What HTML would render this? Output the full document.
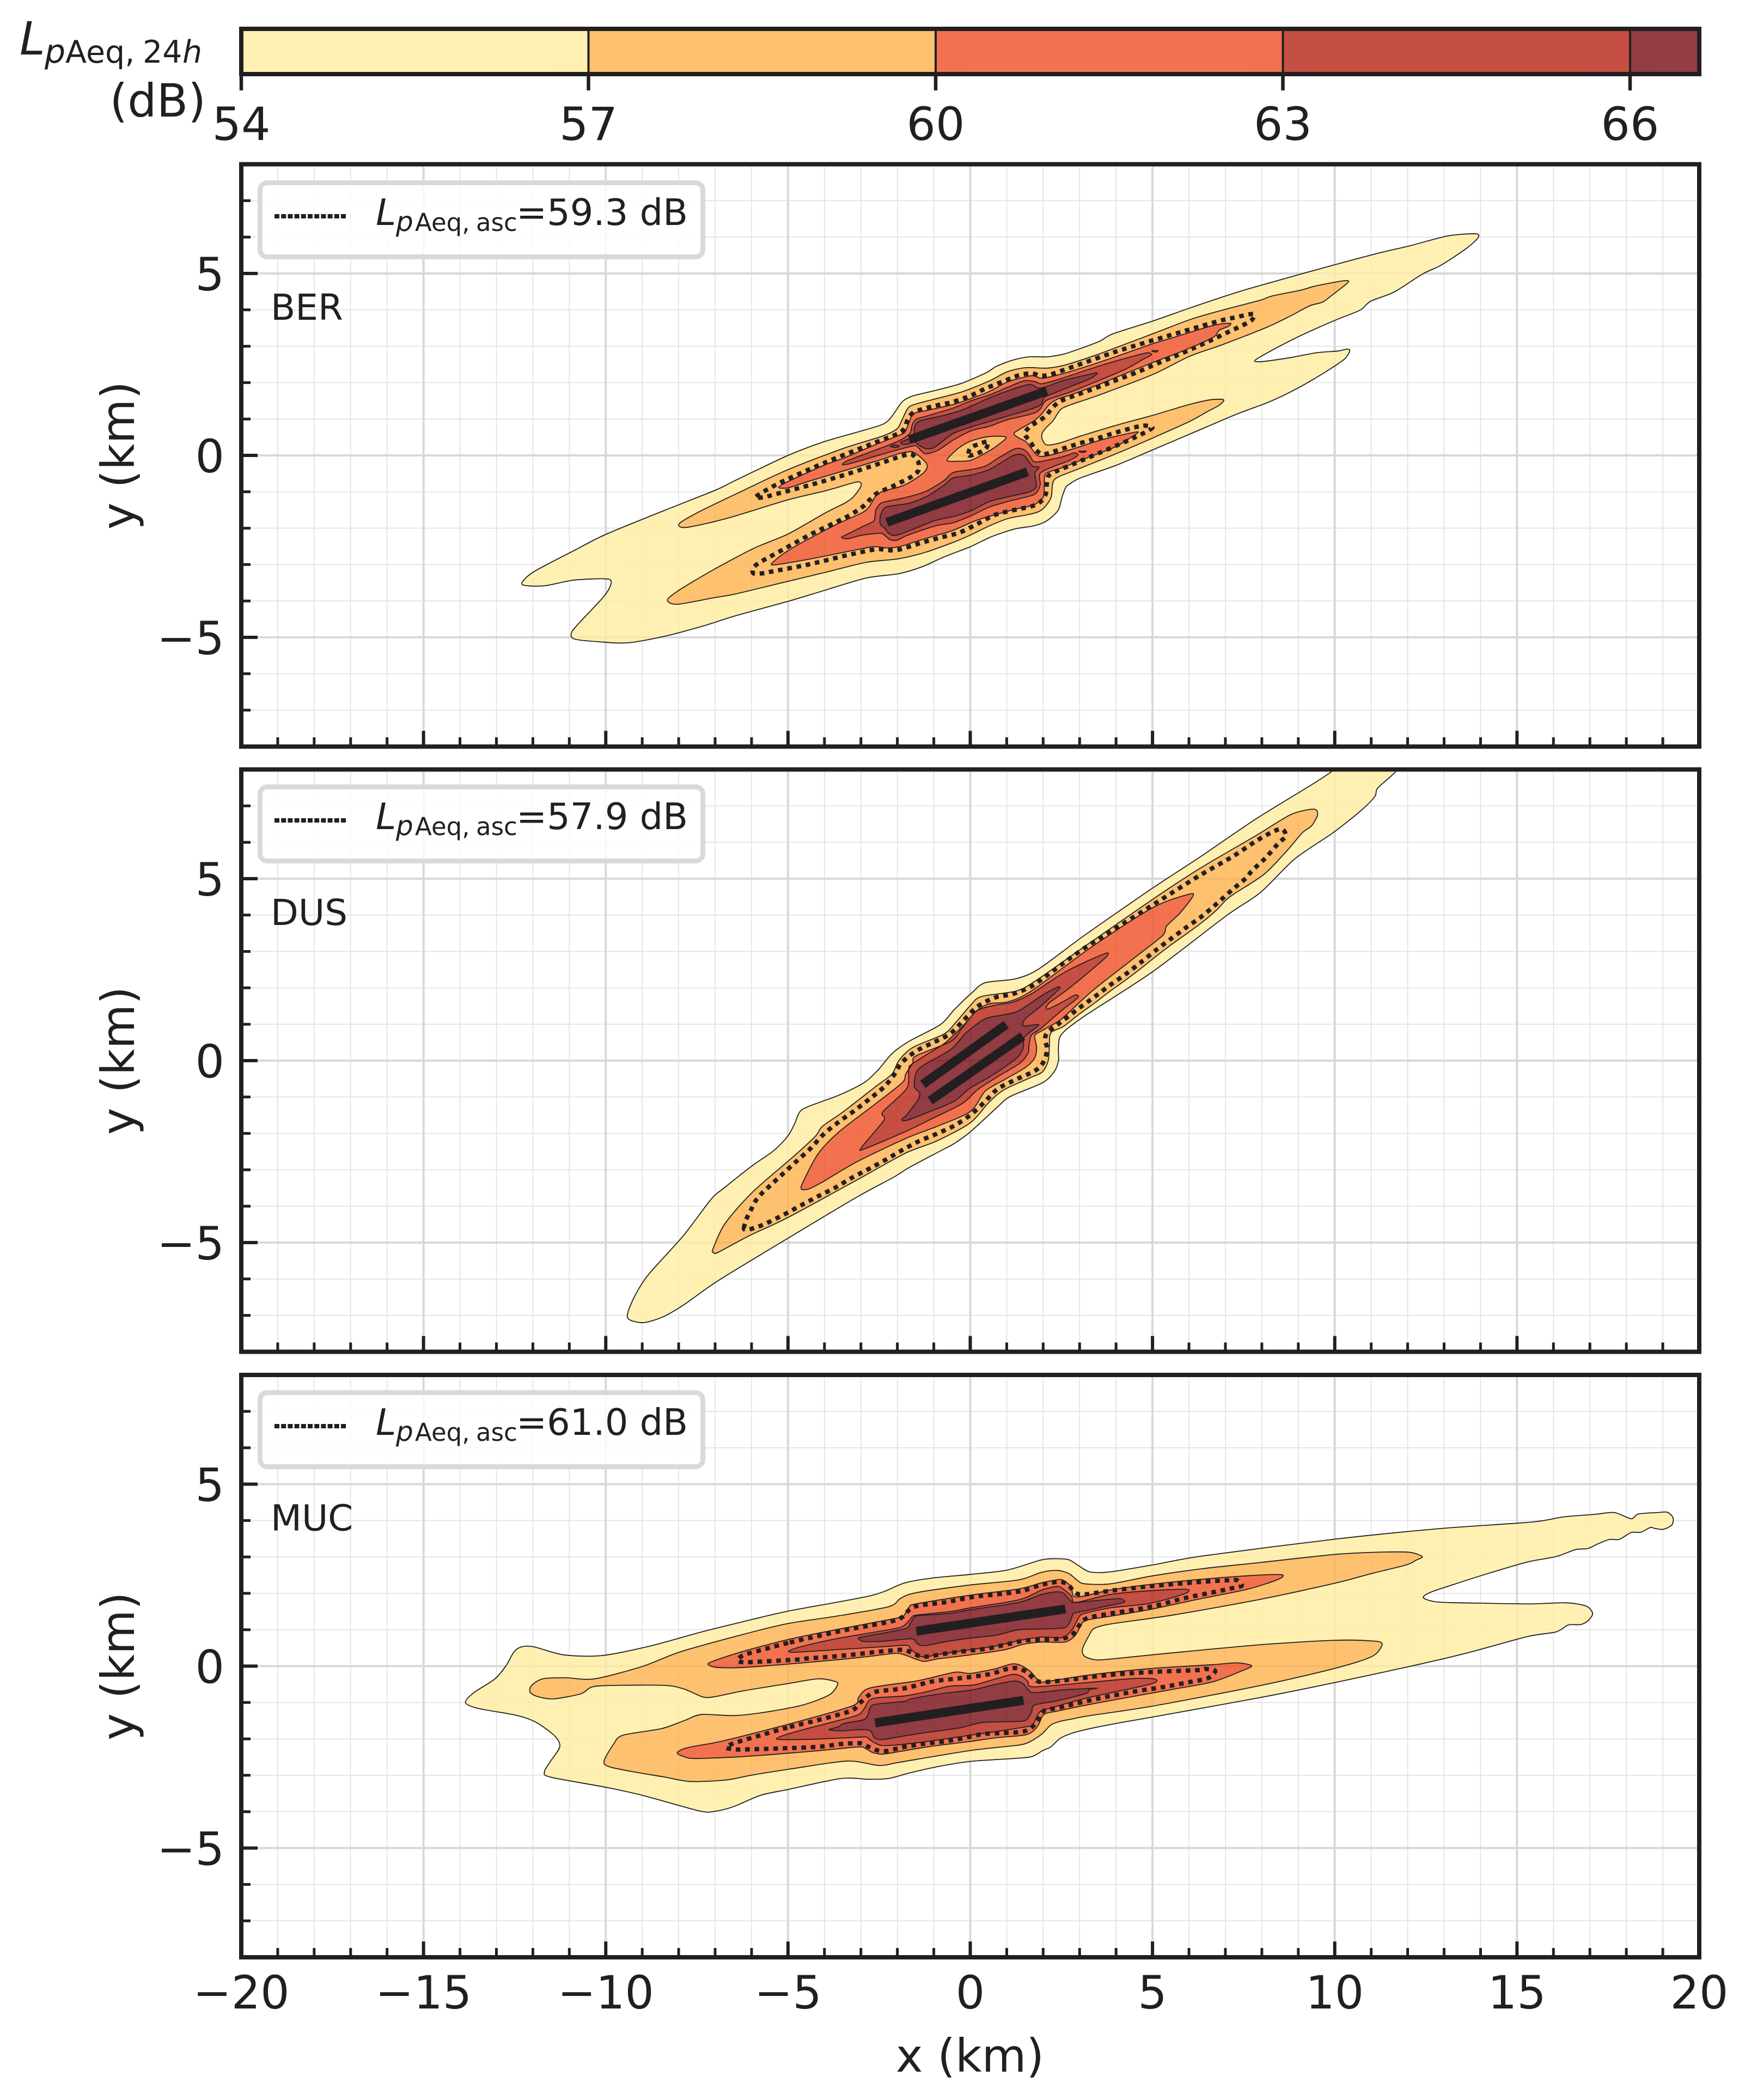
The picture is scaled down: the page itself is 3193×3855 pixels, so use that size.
<!DOCTYPE html>
<html lang="en">
<head>
<meta charset="utf-8">
<title>LpAeq contour maps</title>
<style>
html,body{margin:0;padding:0;background:#fff}
svg{display:block}
text{font-family:"DejaVu Sans","Liberation Sans",sans-serif;fill:#231f20}
</style>
</head>
<body>
<svg id="chart" xmlns="http://www.w3.org/2000/svg" width="3193" height="3855" viewBox="0 0 3193 3855">
<defs>
<clipPath id="clip-ber"><rect x="443" y="301.5" width="2677" height="1069"/></clipPath>
<clipPath id="clip-dus"><rect x="443" y="1412.5" width="2677" height="1069"/></clipPath>
<clipPath id="clip-muc"><rect x="443" y="2524" width="2677" height="1069"/></clipPath>
</defs>
<rect x="0" y="0" width="3193" height="3855" fill="#fff"/>

<g>
  <g id="cb-fill" opacity="0.8"></g>
  <g id="cb-ticks"></g>
  <rect x="443" y="53" width="2677" height="83" fill="none" stroke="#231f20" stroke-width="8"/>
  <g>
    <text x="36" y="100" font-size="84" font-style="italic">L</text>
    <text x="82" y="115" font-size="60" font-style="italic">p</text>
    <text x="120" y="115" font-size="57">Aeq,</text>
    <text x="262" y="115" font-size="57">24</text>
    <text x="335" y="115" font-size="57" font-style="italic">h</text>
    <text x="378" y="214" font-size="84" text-anchor="end">(dB)</text>
  </g>
</g>

<g>
  <g id="ber-grid"></g>
  <g id="ber-plot" clip-path="url(#clip-ber)"></g>
  <g id="ber-ticks"></g>
  <rect x="443" y="301.5" width="2677" height="1069" fill="none" stroke="#231f20" stroke-width="8"/>
  <g>
    <rect x="477.5" y="335.5" width="813" height="136" rx="13" fill="#fff" fill-opacity="0.8" stroke="#d9d9db" stroke-width="9"/>
    <line x1="504" x2="638" y1="397" y2="397" stroke="#231f20" stroke-width="8" stroke-dasharray="9 3.2"/>
    <text x="690" y="413" font-size="67" font-style="italic">L</text>
    <text x="727" y="424" font-size="50" font-style="italic">p</text>
    <text x="762" y="424" font-size="45">Aeq,</text>
    <text x="874" y="424" font-size="45">asc</text>
    <text x="948" y="413" font-size="67">=59.3 dB</text>
  </g>
  <text x="497" y="587" font-size="66">BER</text>
  <text transform="translate(246,836) rotate(-90)" font-size="84" text-anchor="middle">y (km)</text>
</g>

<g>
  <g id="dus-grid"></g>
  <g id="dus-plot" clip-path="url(#clip-dus)"></g>
  <g id="dus-ticks"></g>
  <rect x="443" y="1412.5" width="2677" height="1069" fill="none" stroke="#231f20" stroke-width="8"/>
  <g transform="translate(0,1109)">
    <rect x="477.5" y="335.5" width="813" height="136" rx="13" fill="#fff" fill-opacity="0.8" stroke="#d9d9db" stroke-width="9"/>
    <line x1="504" x2="638" y1="397" y2="397" stroke="#231f20" stroke-width="8" stroke-dasharray="9 3.2"/>
    <text x="690" y="413" font-size="67" font-style="italic">L</text>
    <text x="727" y="424" font-size="50" font-style="italic">p</text>
    <text x="762" y="424" font-size="45">Aeq,</text>
    <text x="874" y="424" font-size="45">asc</text>
    <text x="948" y="413" font-size="67">=57.9 dB</text>
  </g>
  <text x="497" y="1698" font-size="66">DUS</text>
  <text transform="translate(246,1947) rotate(-90)" font-size="84" text-anchor="middle">y (km)</text>
</g>

<g>
  <g id="muc-grid"></g>
  <g id="muc-plot" clip-path="url(#clip-muc)"></g>
  <g id="muc-ticks"></g>
  <rect x="443" y="2524" width="2677" height="1069" fill="none" stroke="#231f20" stroke-width="8"/>
  <g transform="translate(0,2221)">
    <rect x="477.5" y="335.5" width="813" height="136" rx="13" fill="#fff" fill-opacity="0.8" stroke="#d9d9db" stroke-width="9"/>
    <line x1="504" x2="638" y1="397" y2="397" stroke="#231f20" stroke-width="8" stroke-dasharray="9 3.2"/>
    <text x="690" y="413" font-size="67" font-style="italic">L</text>
    <text x="727" y="424" font-size="50" font-style="italic">p</text>
    <text x="762" y="424" font-size="45">Aeq,</text>
    <text x="874" y="424" font-size="45">asc</text>
    <text x="948" y="413" font-size="67">=61.0 dB</text>
  </g>
  <text x="497" y="2809.5" font-size="66">MUC</text>
  <text transform="translate(246,3058.5) rotate(-90)" font-size="84" text-anchor="middle">y (km)</text>
</g>

<g id="x-tick-labels"></g>
<text x="1781" y="3803" font-size="84" text-anchor="middle">x (km)</text>
</svg>

<script>
// ---------- axis values ----------
const xMajorTicks = [-20,-15,-10,-5,0,5,10,15,20];
const xMinorTicks = [-19,-18,-17,-16,-14,-13,-12,-11,-9,-8,-7,-6,-4,-3,-2,-1,1,2,3,4,6,7,8,9,11,12,13,14,16,17,18,19];
const yMajorTicks = [-5,0,5];
const yMinorTicks = [-7,-6,-4,-3,-2,-1,1,2,3,4,6,7];
const colorbarLevels = [54,57,60,63,66];
const colorbarMax = 66.6;
const levelColors = ['#ffeda0','#feb24c','#f05024','#b62413','#780c16'];

// ---------- BER contours (km) ----------
const berLevel54 = [[13.86,6.09],[13.93,5.98],[13.6,5.68],[12.92,5.23],[12.4,4.98],[11.63,4.49],[10.99,4.24],[10.69,3.99],[10,3.71],[9.06,3.29],[8.28,2.89],[7.81,2.61],[8.02,2.58],[8.8,2.69],[9.49,2.82],[10.09,2.87],[10.34,2.92],[10.41,2.87],[10.26,2.64],[9.74,2.29],[8.97,1.84],[8.2,1.47],[7.3,1.13],[6.01,.58],[5,.15],[4.01,-.27],[3.02,-.62],[2.72,-.79],[2.62,-.88],[2.52,-1.14],[2.42,-1.49],[2.24,-1.69],[2.02,-1.84],[1.72,-1.94],[1.27,-2.01],[.87,-2.13],[.52,-2.26],[0,-2.51],[-.72,-2.79],[-1.32,-3.06],[-1.96,-3.25],[-2.86,-3.37],[-4,-3.71],[-5,-4.01],[-6.45,-4.41],[-7.27,-4.67],[-8.3,-4.95],[-9.4,-5.15],[-10.2,-5.12],[-10.85,-5.05],[-10.95,-4.9],[-10.79,-4.67],[-10.03,-3.85],[-9.85,-3.48],[-10.03,-3.39],[-10.9,-3.43],[-11.65,-3.58],[-12.17,-3.58],[-12.3,-3.5],[-11.98,-3.2],[-10.9,-2.63],[-10,-2.17],[-8.41,-1.52],[-6.98,-.95],[-6.45,-.69],[-5,0],[-4,.38],[-2.96,.68],[-2.41,.85],[-2.21,1],[-2.06,1.2],[-1.86,1.48],[-1.59,1.63],[-1.02,1.77],[-.27,1.97],[.43,2.27],[.72,2.45],[1.17,2.62],[1.62,2.71],[2.12,2.71],[2.62,2.8],[3.51,3.12],[3.91,3.34],[5,3.69],[6.05,4.06],[7.34,4.49],[8.28,4.76],[9.06,4.98],[10,5.24],[11.2,5.56],[12.06,5.76],[13.09,6.03]];
const berLevel57 = [[10.25,4.8],[10.36,4.75],[9.91,4.39],[9.66,4.21],[9.31,4.11],[8.8,3.84],[8.11,3.51],[6.91,3.04],[6.01,2.72],[5,2.22],[3.51,1.65],[2.72,1.38],[2.47,1.25],[2.27,.95],[2.07,.75],[1.97,.6],[1.97,.45],[2.07,.3],[2.22,.29],[2.52,.36],[3.02,.53],[4.01,.83],[5,1.1],[6.01,1.4],[6.6,1.53],[6.95,1.53],[6.83,1.38],[6.5,1.2],[6.01,.93],[5.01,.48],[4.01,.05],[3.02,-.35],[2.42,-.59],[2.27,-.74],[2.22,-1.14],[2.07,-1.39],[1.87,-1.55],[1.52,-1.64],[1.02,-1.74],[.52,-1.94],[0,-2.19],[-.47,-2.39],[-1.22,-2.66],[-1.96,-2.84],[-2.86,-2.94],[-3.96,-3.21],[-5,-3.46],[-6.45,-3.81],[-7.08,-3.92],[-8.03,-4.09],[-8.31,-3.98],[-8.03,-3.73],[-7.08,-3.16],[-5.93,-2.55],[-5,-2.16],[-3.96,-1.57],[-3.46,-1.32],[-3.21,-1.14],[-3.01,-.87],[-3.01,-.75],[-3.16,-.74],[-3.96,-.97],[-5,-1.22],[-6.5,-1.68],[-7.46,-1.92],[-7.89,-1.98],[-7.98,-1.87],[-7.46,-1.56],[-6.45,-1.07],[-5,-.39],[-3.46,.2],[-2.41,.53],[-2.01,.73],[-1.86,1],[-1.74,1.25],[-1.59,1.38],[-.97,1.55],[-.22,1.75],[.53,2.05],[1.02,2.3],[1.52,2.41],[2.12,2.4],[2.62,2.49],[3.48,2.77],[5,3.34],[6.05,3.74],[6.91,3.99],[7.94,4.26],[8.28,4.38],[9.06,4.54],[9.49,4.66]];
const berLevel60 = [[7.13,3.63],[7.07,3.54],[6.83,3.44],[6.66,3.24],[5.88,2.89],[5,2.55],[4.01,2.15],[3.51,1.94],[2.72,1.65],[2.42,1.56],[2.17,1.4],[1.97,1.15],[1.72,.93],[1.22,.63],[1.3,.5],[1.52,.38],[1.67,.2],[1.84,0],[2.07,-.02],[2.72,.15],[3.51,.4],[4.01,.53],[4.59,.65],[4.46,.53],[4.01,.25],[3.51,.05],[3.02,-.14],[2.52,-.34],[2.12,-.47],[2.04,-.59],[2.02,-1.09],[1.92,-1.24],[1.72,-1.37],[1.27,-1.47],[.72,-1.62],[.27,-1.75],[.03,-1.84],[-.47,-2.06],[-.97,-2.21],[-1.47,-2.36],[-1.96,-2.51],[-2.31,-2.54],[-2.66,-2.51],[-3.46,-2.66],[-4.46,-2.86],[-5.41,-3.01],[-5.33,-2.86],[-4.96,-2.59],[-4.46,-2.31],[-3.66,-1.89],[-2.96,-1.57],[-2.76,-1.39],[-2.61,-1.14],[-2.41,-.99],[-1.96,-.87],[-1.66,-.74],[-1.27,-.47],[-1.18,-.27],[-1.32,-.09],[-1.54,.08],[-1.66,.1],[-1.96,.05],[-2.46,-.12],[-3.36,-.39],[-4.46,-.72],[-5,-.89],[-5.26,-.88],[-5,-.72],[-4.01,-.27],[-3.46,-.07],[-2.71,.25],[-1.96,.55],[-1.79,.65],[-1.66,.95],[-1.57,1.15],[-1.22,1.23],[-.47,1.4],[-.07,1.53],[.53,1.76],[1.02,2.02],[1.52,2.16],[1.72,2.19],[1.97,2.12],[2.32,2.19],[3.02,2.39],[4.01,2.72],[5.01,3.07],[5.51,3.22],[6.66,3.57]];
const berIsland57 = [[.98,.5],[.53,.52],[.03,.4],[-.32,.2],[-.64,-.13],[-.32,-.16],[.03,-.13],[.53,.13],[.78,.3]];
const berLevel63North = [[-3.51,-.25],[-3.33,-.13],[-2.46,.2],[-1.96,.4],[-1.66,.6],[-1.59,.85],[-1.47,1],[-1.17,1.09],[-.47,1.3],[.02,1.5],[.52,1.66],[1.02,1.87],[1.47,2.05],[1.77,2.03],[1.97,1.97],[2.52,2.12],[3.27,2.37],[4.01,2.6],[4.76,2.8],[4.9,2.82],[4.97,2.76],[4.76,2.65],[4.26,2.37],[3.51,2.05],[2.77,1.75],[2.17,1.55],[2.02,1.45],[1.92,1.28],[1.72,1.15],[1.02,.98],[.52,.8],[.03,.68],[-.47,.42],[-.82,.18],[-1.07,.07],[-1.27,.06],[-1.47,.25],[-1.66,.24],[-2.36,.05],[-2.96,-.13],[-3.36,-.24]];
const berLevel63South = [[-3.53,-2.25],[-3.36,-2.16],[-2.96,-1.96],[-2.66,-1.81],[-2.61,-1.66],[-2.59,-1.49],[-2.46,-1.32],[-2.31,-1.27],[-1.71,-1.14],[-1.22,-.99],[-.72,-.69],[-.47,-.47],[.02,-.39],[.42,-.29],[.82,-.04],[1.22,.18],[1.42,.18],[1.57,.08],[1.67,-.07],[1.74,-.17],[1.92,-.17],[2.52,-.04],[2.86,.07],[2.95,0],[2.72,-.14],[2.32,-.29],[1.92,-.49],[1.92,-.79],[1.87,-.94],[1.72,-1.09],[1.02,-1.27],[.52,-1.42],[.02,-1.66],[-.47,-1.85],[-.97,-1.94],[-1.71,-2.19],[-2.01,-2.33],[-2.21,-2.31],[-2.39,-2.16],[-2.51,-2.14],[-2.96,-2.19],[-3.36,-2.29]];
const berSpeckA63 = [[4.98,2.87],[5.15,2.88],[5.1,2.84]];
const berSpeckB63 = [[2.97,.11],[3.18,.12],[3.1,.08]];
const berLevel66North = [[-1.54,.63],[-1.52,.8],[-1.37,.95],[-.72,1.1],[-.22,1.25],[.28,1.47],[.52,1.58],[1.02,1.77],[1.62,1.95],[1.87,1.85],[2.12,1.9],[2.52,2.05],[3.02,2.17],[3.41,2.26],[3.48,2.25],[3.31,2.12],[2.77,1.9],[2.17,1.66],[2.02,1.58],[1.87,1.35],[1.02,1.08],[.52,.93],[.02,.78],[-.47,.6],[-.97,.23],[-1.17,.18],[-1.32,.23],[-1.52,.38]];
const berLevel66Speck = [[-1.91,.36],[-1.69,.44],[-1.66,.33],[-1.84,.3]];
const berLevel66SpeckSmall = [[-2.19,.25],[-2.06,.29],[-1.94,.25],[-2.06,.22]];
const berLevel66South = [[-2.47,-1.88],[-2.46,-1.64],[-2.31,-1.42],[-1.71,-1.32],[-1.22,-1.14],[-.72,-.82],[-.47,-.62],[.02,-.54],[.52,-.39],[1.02,-.09],[1.27,.03],[1.47,0],[1.62,-.19],[1.72,-.3],[1.89,-.33],[1.77,-.49],[1.82,-.79],[1.77,-.92],[1.57,-1.02],[1.02,-1.14],[.52,-1.27],[.02,-1.52],[-.47,-1.68],[-.97,-1.79],[-1.47,-1.99],[-2.01,-2.19],[-2.21,-2.16],[-2.36,-1.99]];
const berAscent = [[-5.88,-1.13],[-5.18,-.73],[-3.97,-.19],[-2.75,.3],[-2,.59],[-1.81,.74],[-1.71,1],[-1.54,1.19],[-1.03,1.35],[-.52,1.46],[-.02,1.63],[.45,1.85],[1.19,2.15],[1.44,2.23],[1.7,2.25],[1.96,2.19],[2.22,2.23],[2.97,2.49],[3.96,2.84],[4.97,3.15],[6.74,3.67],[7.26,3.79],[7.77,3.89],[7.74,3.74],[7.56,3.62],[7.08,3.39],[6.6,3.16],[6.11,2.94],[5.63,2.73],[5.14,2.53],[4.66,2.32],[3.91,2.03],[3.41,1.84],[2.69,1.58],[2.44,1.47],[2.24,1.3],[2.08,1.09],[1.87,.94],[1.65,.8],[1.49,.6],[1.64,.39],[1.78,.17],[1.98,.03],[2.24,.09],[2.49,.17],[2.99,.33],[3.49,.47],[4,.63],[4.51,.77],[4.77,.82],[5,.77],[4.79,.63],[4.55,.51],[4.31,.4],[3.59,.09],[2.87,-.22],[2.37,-.43],[2.14,-.57],[2.1,-.8],[2.07,-1.07],[1.92,-1.28],[1.68,-1.4],[1.16,-1.51],[.66,-1.64],[.18,-1.89],[-.29,-2.12],[-.79,-2.25],[-1.3,-2.39],[-1.81,-2.55],[-2.06,-2.61],[-2.32,-2.6],[-2.59,-2.58],[-3.37,-2.74],[-4.4,-2.99],[-5.43,-3.19],[-5.69,-3.24],[-5.95,-3.24],[-5.95,-3.08],[-5.74,-2.92],[-5.27,-2.66],[-4.34,-2.15],[-3.39,-1.69],[-2.95,-1.41],[-2.76,-1.22],[-2.56,-1.04],[-2.09,-.83],[-1.62,-.59],[-1.42,-.41],[-1.43,-.17],[-1.61,.03],[-1.86,-.01],[-2.36,-.18],[-3.37,-.51],[-4.38,-.81],[-5.4,-1.08],[-5.65,-1.15]];
const berAscentIsland = [[-.04,0],[.18,.05],[.42,.18],[.49,.38],[.23,.31],[0,.2]];
const berRunways = [[-1.67,.43,2.1,1.77],[-2.29,-1.84,1.57,-.45]];

// ---------- DUS contours (km) ----------
const dusLevel54 = [[10,8.35],[11.9,8.35],[11.68,7.95],[11.18,7.49],[11.1,7.26],[10.73,6.88],[9.95,6.26],[8.9,5.54],[7.96,4.62],[7.01,3.97],[5,2.44],[3.13,1.22],[2.51,.73],[2.42,.38],[2.42,0],[2.3,-.31],[1.98,-.61],[1.09,-.99],[.72,-1.3],[0,-1.96],[-.44,-2.28],[-.74,-2.44],[-1.68,-2.94],[-2.11,-3.21],[-3.11,-3.75],[-5,-4.88],[-6.92,-6.05],[-7.87,-6.72],[-8.45,-7.05],[-8.97,-7.2],[-9.35,-7.12],[-9.4,-6.95],[-9.21,-6.48],[-8.83,-5.88],[-7.87,-4.81],[-7.11,-3.81],[-6.73,-3.48],[-5.97,-2.88],[-5.4,-2.48],[-5.01,-2.08],[-4.82,-1.74],[-4.68,-1.41],[-4.44,-1.26],[-3.58,-.94],[-2.92,-.61],[-2.54,-.27],[-2.15,.19],[-1.68,.53],[-.82,.99],[-.44,1.4],[.04,1.86],[.41,2.14],[1.25,2.25],[1.88,2.52],[3.13,3.44],[5,4.74],[6.28,5.58],[7.85,6.65],[9.92,7.95]];
const dusLevel57 = [[9.42,6.91],[9.53,6.76],[9.37,6.46],[9.11,6.26],[8.69,5.77],[8.06,5.12],[7.12,4.5],[6.77,4.15],[6.36,3.8],[5.94,3.49],[5.52,3.19],[5.1,2.87],[4.69,2.54],[4.27,2.22],[3.84,1.91],[3.42,1.59],[2.98,1.27],[2.56,.94],[2.21,.76],[2.17,.38],[2.14,0],[1.98,-.31],[1.67,-.46],[.93,-.8],[.51,-1.15],[0,-1.71],[-.92,-2.21],[-1.77,-2.54],[-3.11,-3.28],[-5,-4.31],[-6.06,-4.81],[-6.92,-5.27],[-7.04,-5.27],[-7.06,-5.18],[-6.73,-4.48],[-5.97,-3.61],[-4.82,-2.61],[-4.25,-2.08],[-4.06,-1.81],[-3.49,-1.41],[-2.63,-.74],[-2.15,-.37],[-1.96,0],[-1.58,.36],[-.72,.73],[-.39,1.06],[-.01,1.5],[.3,1.76],[1.25,1.91],[1.77,2.18],[3.13,3.13],[5,4.43],[6.28,5.27],[7.85,6.19],[8.79,6.76]];
const dusLevel60 = [[6.02,4.58],[6.09,4.49],[5.75,4.05],[5.39,3.7],[5.28,3.44],[4.6,2.9],[3.34,1.91],[2.51,1.15],[2,.84],[1.77,.69],[1.82,.38],[1.77,.08],[1.51,-.19],[.93,-.53],[.41,-.84],[0,-1.4],[-.92,-1.81],[-1.77,-2.14],[-3.11,-2.78],[-4.06,-3.34],[-4.44,-3.53],[-4.63,-3.53],[-4.59,-3.34],[-4.16,-2.54],[-3.58,-1.94],[-2.63,-1.21],[-1.87,-.61],[-1.77,-.37],[-1.58,-.07],[-1.49,.13],[-.53,.53],[-.25,.86],[.13,1.33],[.51,1.56],[1.04,1.62],[1.67,1.91],[3.34,3.13],[5,4.2]];
const dusLevel63 = [[3.66,2.93],[3.74,2.86],[3.13,2.33],[2.61,1.91],[2.15,1.57],[2.11,1.41],[2.51,1.6],[2.87,1.8],[2.95,1.73],[2.51,1.38],[1.93,.88],[1.67,.69],[1.61,.38],[1.58,.19],[1.35,-.08],[.72,-.46],[.2,-.8],[-.22,-1.18],[-1.06,-1.6],[-1.69,-1.91],[-2.89,-2.42],[-2.98,-2.38],[-2.37,-1.64],[-2.4,-1.41],[-1.74,-.76],[-1.69,-.23],[-1.58,-.08],[-.85,.38],[-.64,.53],[-.17,.99],[.2,1.38],[.72,1.53],[1.14,1.6],[1.67,1.83],[2.61,2.44]];
const dusLevel66 = [[2.4,2.02],[2.42,1.95],[1.88,1.45],[1.51,1.15],[1.46,.95],[1.88,.99],[1.61,.76],[1.46,.61],[1.46,.38],[1.35,.15],[1.04,-.11],[.51,-.46],[-.01,-.76],[-.43,-1.11],[-1.06,-1.38],[-1.74,-1.64],[-1.88,-1.62],[-1.74,-1.49],[-1.43,-1.07],[-1.39,-.88],[-1.53,-.73],[-1.5,-.38],[-1.32,-.15],[-.53,.31],[-.12,.76],[.41,1.15],[.93,1.26],[1.35,1.38],[1.98,1.8]];
const dusAscent = [[-6.21,-4.61],[-6.13,-4.33],[-6.01,-4.09],[-5.9,-3.87],[-5.73,-3.66],[-5.54,-3.48],[-5.15,-3.12],[-4.76,-2.76],[-4.38,-2.41],[-4.01,-2.01],[-3.6,-1.68],[-3.17,-1.37],[-2.76,-1.05],[-2.35,-.71],[-2.03,-.31],[-1.9,-.07],[-1.49,.26],[-1.03,.49],[-.56,.73],[-.18,1.11],[.19,1.48],[.67,1.73],[1.16,1.83],[1.66,2.03],[2.09,2.33],[3.13,3.09],[4.71,4.09],[5.39,4.52],[6.28,5.08],[7.2,5.61],[7.85,6.04],[8.32,6.3],[8.56,6.36],[8.66,6.17],[8.46,5.98],[8.11,5.58],[7.73,5.22],[7.57,5.02],[7.17,4.68],[6.77,4.32],[6.36,3.97],[5.94,3.67],[5.52,3.36],[5.1,3.04],[4.69,2.71],[4.27,2.38],[3.84,2.08],[3.42,1.76],[2.98,1.44],[2.56,1.11],[2.14,.8],[2.05,.59],[2.11,.33],[2.05,.05],[1.93,-.15],[1.72,-.31],[1.23,-.53],[.75,-.78],[.38,-1.15],[.01,-1.49],[-.44,-1.79],[-.92,-2.01],[-1.4,-2.21],[-1.87,-2.46],[-2.33,-2.73],[-2.79,-2.98],[-3.25,-3.22],[-3.72,-3.5],[-4.18,-3.73],[-4.65,-3.98],[-5.11,-4.23],[-5.59,-4.47],[-5.84,-4.57],[-6.11,-4.65]];
const dusRunways = [[-1.3,-.65,.985,.99],[-1.1,-1.1,1.44,.67]];

// ---------- MUC contours (km) ----------
const mucLevel54 = [[19.12,4.23],[19.28,4.08],[19.25,3.88],[19.02,3.76],[18.79,3.78],[18.66,3.81],[18.4,3.68],[18.13,3.67],[17.8,3.48],[17.53,3.48],[17.2,3.35],[16.94,3.23],[16.6,3.2],[16.07,3.01],[15.28,2.86],[14.22,2.55],[13.16,2.21],[12.63,2.03],[12.43,1.88],[12.83,1.76],[13.96,1.73],[15.36,1.71],[16.34,1.74],[16.87,1.66],[17.03,1.54],[17.07,1.41],[16.94,1.24],[16.74,1.14],[16.41,1.13],[16.07,.94],[15.28,.81],[13.55,.34],[11.96,-.03],[10.01,-.45],[7.98,-.86],[5,-1.4],[3.87,-1.6],[2.94,-1.8],[2.49,-1.97],[2.21,-2.22],[1.99,-2.32],[1.71,-2.48],[1.33,-2.53],[0,-2.62],[-.93,-2.77],[-1.68,-2.94],[-2.25,-3.09],[-2.81,-3.11],[-3.55,-3.09],[-5,-3.39],[-5.75,-3.55],[-6.49,-3.86],[-7.01,-3.99],[-7.43,-3.98],[-9,-3.55],[-10,-3.33],[-11.52,-3.05],[-11.68,-2.9],[-11.52,-2.62],[-11.26,-2.21],[-11.42,-1.9],[-11.94,-1.53],[-12.46,-1.35],[-13.51,-1.16],[-13.85,-1],[-13.62,-.73],[-13.04,-.35],[-12.73,.02],[-12.52,.39],[-12.31,.53],[-11.97,.53],[-11.16,.31],[-10.1,.29],[-8.79,.55],[-7.33,.95],[-6.28,1.21],[-5,1.51],[-2.71,1.94],[-1.82,2.28],[-1.04,2.42],[0,2.52],[1.02,2.64],[1.96,2.92],[2.4,2.95],[2.71,2.92],[2.96,2.77],[3.28,2.59],[3.84,2.59],[5,2.78],[6.39,3.03],[10.01,3.49],[12.89,3.78],[15.41,3.96],[16.27,4.1],[17.13,4.17],[17.67,4.22],[18.13,4.05],[18.33,4.18],[18.86,4.22]];
const mucLevel57 = [[12.4,3.01],[12.23,2.91],[11.96,2.78],[11.03,2.55],[10.01,2.28],[7.98,1.84],[5.6,1.41],[3.87,1.16],[3.41,1.04],[3.28,.88],[3.08,.47],[3.14,.27],[3.47,.17],[4.01,.21],[5.6,.37],[7.98,.59],[10.01,.71],[11.03,.69],[11.3,.61],[11.03,.27],[10.01,-.06],[7.98,-.53],[5,-1.1],[3.22,-1.37],[2.81,-1.45],[2.46,-1.52],[2.21,-1.62],[1.96,-1.87],[1.65,-2.07],[1.33,-2.17],[0,-2.32],[-1.93,-2.64],[-2.5,-2.73],[-3.38,-2.61],[-4.95,-2.83],[-5.96,-2.99],[-6.7,-3.13],[-7.69,-3.17],[-8.38,-3.05],[-9.21,-2.91],[-9.89,-2.77],[-10.05,-2.62],[-9.79,-2.15],[-9.53,-1.9],[-8.48,-1.72],[-7.85,-1.5],[-7.38,-1.33],[-6.49,-1.36],[-5.65,-1.27],[-4.6,-1.07],[-3.87,-.79],[-3.64,-.51],[-3.71,-.42],[-4.18,-.35],[-5,-.48],[-6.28,-.69],[-7.01,-.84],[-7.33,-.85],[-7.85,-.63],[-8.38,-.53],[-9.74,-.53],[-10.37,-.57],[-10.68,-.76],[-11.42,-.9],[-11.83,-.85],[-12.07,-.73],[-12.04,-.54],[-11.73,-.35],[-11.1,-.32],[-10.31,-.35],[-9,-.01],[-7.96,.39],[-6.28,.86],[-5,1.17],[-3.69,1.37],[-2.25,1.63],[-1.93,1.85],[-1.68,1.97],[-1.18,2.07],[0,2.23],[1.33,2.37],[1.96,2.58],[2.4,2.63],[2.71,2.54],[2.96,2.34],[3.15,2.26],[3.84,2.26],[5,2.48],[6.39,2.68],[7.98,2.85],[10.01,3.07],[11.17,3.13],[12.03,3.13]];
const mucLevel60North = [[8.54,2.51],[8.44,2.38],[7.59,2.11],[6.26,1.84],[4.9,1.55],[3.84,1.37],[3.22,1.27],[3.06,1.17],[2.96,.97],[2.84,.8],[2.59,.66],[1.96,.66],[1.46,.6],[.95,.45],[.08,.32],[-.87,.2],[-1.24,.13],[-1.43,.17],[-1.81,.31],[-2.06,.35],[-2.75,.27],[-3.69,.17],[-4.95,.06],[-6.28,-.04],[-6.91,-.04],[-7.16,.02],[-7.12,.11],[-6.28,.39],[-5,.73],[-3.69,1],[-2.12,1.3],[-1.84,1.37],[-1.68,1.62],[-1.49,1.71],[0,1.95],[1.33,2.12],[1.96,2.29],[2.46,2.38],[2.65,2.29],[2.78,2.17],[2.9,1.9],[3.84,2.09],[4.9,2.24],[6.26,2.38],[7.72,2.49]];
const mucLevel60South = [[7.72,.01],[7.45,-.13],[6.66,-.43],[5.6,-.63],[3.61,-.99],[2.41,-1.23],[2.02,-1.33],[1.88,-1.6],[1.71,-1.8],[1.46,-1.9],[.7,-1.97],[0,-2.07],[-1.18,-2.22],[-2.19,-2.39],[-2.44,-2.42],[-2.69,-2.37],[-2.88,-2.26],[-3.07,-2.22],[-4.01,-2.31],[-4.95,-2.39],[-6.28,-2.49],[-7.54,-2.54],[-7.85,-2.49],[-8.04,-2.38],[-7.75,-2.24],[-6.8,-2.06],[-5,-1.6],[-3.25,-1.1],[-3.06,-.85],[-2.75,-.6],[-1.43,-.4],[-.43,-.17],[0,-.2],[.7,-.07],[1.14,.06],[1.39,.02],[1.65,-.15],[1.83,-.35],[1.96,-.44],[3.22,-.25],[4.9,-.07],[6.66,.04],[7.32,.09]];
const mucLevel63North = [[-4.92,.38],[-4.76,.5],[-3.69,.75],[-2.12,1.02],[-1.81,1.12],[-1.62,1.32],[-1.49,1.4],[-.55,1.5],[0,1.6],[1.33,1.82],[1.96,2.09],[2.4,2.19],[2.59,2.09],[2.78,1.92],[2.9,1.75],[3.84,1.97],[4.9,2.07],[5.93,2.11],[5.86,1.98],[4.9,1.72],[3.84,1.6],[3.15,1.45],[3,1.37],[2.84,1.07],[2.75,.95],[2.53,.78],[1.96,.8],[1.33,.7],[.7,.55],[0,.45],[-.87,.32],[-1.18,.26],[-1.37,.27],[-1.62,.45],[-1.75,.57],[-2.44,.53],[-3.69,.45]];
const mucLevel63South = [[-5.3,-2.01],[-4.92,-1.84],[-3.87,-1.56],[-3.1,-1.35],[-2.91,-1.17],[-2.78,-.95],[-2.56,-.87],[-1.81,-.82],[-1.18,-.7],[-.55,-.55],[.08,-.52],[.7,-.35],[1.14,-.23],[1.39,-.27],[1.58,-.42],[1.74,-.57],[3.22,-.45],[4.5,-.34],[5.07,-.36],[4.93,-.5],[3.22,-.87],[2.15,-1.17],[1.9,-1.27],[1.71,-1.62],[1.52,-1.67],[.7,-1.8],[0,-1.9],[-1.18,-2.07],[-2.06,-2.17],[-2.44,-2.18],[-2.66,-2.09],[-2.85,-1.95],[-3,-1.95],[-4.32,-2.01]];
const mucLevel66North = [[-3.05,.75],[-2.97,.8],[-1.81,1.02],[-1.65,1.17],[-1.53,1.35],[-1.37,1.39],[-.55,1.45],[0,1.55],[1.33,1.75],[1.96,1.97],[2.37,2.04],[2.56,2],[2.75,1.8],[2.9,1.75],[3.97,1.85],[4.16,1.84],[4.23,1.76],[3.84,1.67],[3.15,1.52],[2.84,1.45],[2.78,1.32],[2.71,1.17],[2.56,1.05],[1.96,1.02],[1.33,1],[.7,.85],[0,.77],[-.68,.67],[-1.18,.57],[-1.37,.57],[-1.49,.65],[-1.62,.75],[-2.44,.68],[-2.94,.68]];
const mucLevel66South = [[-3.88,-1.75],[-3.63,-1.67],[-3.44,-1.57],[-2.94,-1.48],[-2.81,-1.35],[-2.75,-1.15],[-2.6,-1.05],[-1.81,-.97],[-1.62,-.9],[-.87,-.77],[.08,-.65],[.7,-.5],[1.21,-.41],[1.43,-.47],[1.62,-.67],[1.77,-.73],[2.59,-.65],[3.47,-.61],[3.25,-.65],[3.18,-.75],[2.4,-.95],[1.77,-1.07],[1.68,-1.27],[1.55,-1.47],[1.33,-1.52],[.33,-1.55],[-.3,-1.7],[-1.18,-1.82],[-2.12,-1.97],[-2.44,-2.02],[-2.63,-1.97],[-2.75,-1.77],[-3.07,-1.75],[-3.57,-1.78]];
const mucAscentNorth = [[-4.95,.65],[-4.16,.83],[-3.39,1],[-2.61,1.14],[-2.09,1.25],[-1.86,1.35],[-1.67,1.55],[-1.43,1.66],[-.65,1.76],[.13,1.91],[.91,1.99],[1.44,2.07],[1.94,2.23],[2.45,2.32],[2.7,2.22],[2.87,2.02],[3.12,1.97],[3.91,2.08],[4.69,2.17],[5.2,2.22],[6.26,2.31],[7.08,2.36],[7.32,2.36],[7.45,2.21],[7.18,2.14],[6.72,2.04],[5.93,1.88],[5.2,1.69],[4.67,1.58],[3.81,1.44],[3.28,1.34],[3.08,1.24],[2.94,1.04],[2.78,.85],[2.53,.76],[2.01,.73],[1.48,.7],[.97,.59],[.46,.48],[-.07,.42],[-.58,.36],[-1.11,.27],[-1.37,.27],[-1.61,.37],[-1.85,.45],[-2.37,.41],[-2.91,.35],[-3.69,.27],[-4.48,.21],[-4.74,.18],[-6.07,.11],[-6.38,.14],[-6.23,.3],[-5.7,.45]];
const mucAscentSouth = [[-4.95,-1.67],[-4.2,-1.49],[-3.42,-1.28],[-3.18,-1.18],[-3,-.99],[-2.81,-.82],[-2.58,-.7],[-1.8,-.61],[-1.03,-.42],[-.24,-.33],[.53,-.22],[1.04,-.07],[1.3,-.06],[1.55,-.16],[1.73,-.33],[1.97,-.44],[2.75,-.37],[3.54,-.27],[4.33,-.2],[5.2,-.15],[6.26,-.11],[6.46,-.08],[6.72,-.13],[6.53,-.33],[6.06,-.43],[5.27,-.58],[4.54,-.69],[3.47,-.9],[2.48,-1.13],[2.02,-1.23],[1.82,-1.53],[1.63,-1.73],[1.38,-1.81],[.84,-1.84],[.33,-1.87],[-.19,-1.98],[-.71,-2.07],[-1.24,-2.13],[-1.76,-2.21],[-2.28,-2.33],[-2.53,-2.32],[-2.78,-2.22],[-3.02,-2.12],[-3.55,-2.14],[-4.07,-2.21],[-4.86,-2.25],[-6.17,-2.29],[-6.44,-2.29],[-6.7,-2.24],[-6.49,-2.12],[-5.75,-1.9]];
const mucRunways = [[-1.48,.96,2.61,1.57],[-2.61,-1.56,1.46,-.94]];

// ---------- axis functions ----------
const SVG_NS = 'http://www.w3.org/2000/svg';
const X_ZERO = 1781.5, X_SCALE = 66.925, Y_SCALE = 66.8, Y_HALF = 534.5;
const AX_LEFT = 443, AX_RIGHT = 3120;
function sx(x){ return X_ZERO + x * X_SCALE; }
function sy(center, y){ return center - y * Y_SCALE; }
function cbx(v){ return AX_LEFT + (v - colorbarLevels[0]) * 212.5; }
function fmt(v){ return String(v).replace('-', '\u2212'); }
function make(tag, attrs, parent){
  const el = document.createElementNS(SVG_NS, tag);
  for (const k in attrs) el.setAttribute(k, attrs[k]);
  parent.appendChild(el);
  return el;
}
function smoothPath(pts, center, closed){
  const P = pts.map(p => [sx(p[0]), sy(center, p[1])]);
  const n = P.length, k = 0.14;
  let d = 'M' + P[0][0].toFixed(1) + ' ' + P[0][1].toFixed(1);
  const last = closed ? n : n - 1;
  for (let i = 0; i < last; i++){
    const p0 = P[(i - 1 + n) % n], p1 = P[i], p2 = P[(i + 1) % n], p3 = P[(i + 2) % n];
    d += 'C' + (p1[0] + (p2[0] - p0[0]) * k).toFixed(1) + ' ' + (p1[1] + (p2[1] - p0[1]) * k).toFixed(1) + ' '
       + (p2[0] - (p3[0] - p1[0]) * k).toFixed(1) + ' ' + (p2[1] - (p3[1] - p1[1]) * k).toFixed(1) + ' '
       + p2[0].toFixed(1) + ' ' + p2[1].toFixed(1);
  }
  return d + (closed ? 'Z' : '');
}

// ---------- colorbar ----------
(function(){
  const fill = document.getElementById('cb-fill');
  const ticks = document.getElementById('cb-ticks');
  const edges = colorbarLevels.concat([colorbarMax]);
  for (let i = 0; i < levelColors.length; i++){
    const seg = make('rect', {x: cbx(edges[i]), y: 53, width: cbx(edges[i + 1]) - cbx(edges[i]), height: 83, fill: levelColors[i]}, fill);
    
    
  }
  colorbarLevels.forEach(function(v){
    const divider = make('line', {x1: cbx(v), x2: cbx(v), y1: 53, y2: 136, stroke: '#231f20', 'stroke-width': 4}, ticks);
    
    
    const tick = make('line', {x1: cbx(v), x2: cbx(v), y1: 136, y2: 166, stroke: '#231f20', 'stroke-width': 6.5}, ticks);
    
    
    const label = make('text', {x: cbx(v), y: 257, 'font-size': 84, 'text-anchor': 'middle'}, ticks);
    label.textContent = String(v);
    
    
  });
})();

// ---------- panels ----------
function drawPanel(key, center, regions, ascents, runways, showXLabels){
  const grid = document.getElementById(key + '-grid');
  const plot = document.getElementById(key + '-plot');
  const ticks = document.getElementById(key + '-ticks');
  const top = center - Y_HALF, bottom = center + Y_HALF;

  xMinorTicks.forEach(function(v){
    const g = make('line', {x1: sx(v), x2: sx(v), y1: top, y2: bottom, stroke: '#e0e0e2', 'stroke-width': 1.6}, grid);
    
    
    const t = make('line', {x1: sx(v), x2: sx(v), y1: bottom, y2: bottom - 17, stroke: '#231f20', 'stroke-width': 5}, ticks);
    
    
  });
  yMinorTicks.forEach(function(v){
    const g = make('line', {x1: AX_LEFT, x2: AX_RIGHT, y1: sy(center, v), y2: sy(center, v), stroke: '#e0e0e2', 'stroke-width': 1.6}, grid);
    
    
    const t = make('line', {x1: AX_LEFT, x2: AX_LEFT + 17, y1: sy(center, v), y2: sy(center, v), stroke: '#231f20', 'stroke-width': 5}, ticks);
    
    
  });
  xMajorTicks.forEach(function(v){
    const g = make('line', {x1: sx(v), x2: sx(v), y1: top, y2: bottom, stroke: '#d8d8da', 'stroke-width': 4}, grid);
    
    
    const t = make('line', {x1: sx(v), x2: sx(v), y1: bottom, y2: bottom - 29, stroke: '#231f20', 'stroke-width': 6}, ticks);
    
    
    if (showXLabels){
      const label = make('text', {x: sx(v), y: 3687, 'font-size': 84, 'text-anchor': 'middle'}, document.getElementById('x-tick-labels'));
      label.textContent = fmt(v);
      
      
    }
  });
  yMajorTicks.forEach(function(v){
    const g = make('line', {x1: AX_LEFT, x2: AX_RIGHT, y1: sy(center, v), y2: sy(center, v), stroke: '#d8d8da', 'stroke-width': 4}, grid);
    
    
    const t = make('line', {x1: AX_LEFT, x2: AX_LEFT + 30, y1: sy(center, v), y2: sy(center, v), stroke: '#231f20', 'stroke-width': 6}, ticks);
    
    
    const label = make('text', {x: 412, y: sy(center, v) + 31, 'font-size': 84, 'text-anchor': 'end'}, ticks);
    label.textContent = fmt(v);
    
    
  });

  const fills = make('g', {opacity: 0.8}, plot);
  
  
  const lines = make('g', {fill: 'none', stroke: '#231f20', 'stroke-width': 1.8}, plot);
  
  
  regions.forEach(function(region){
    const d = smoothPath(region.points, center, true);
    const f = make('path', {d: d, fill: levelColors[region.level]}, fills);
    
    
    const l = make('path', {d: d}, lines);
    
    
  });
  ascents.forEach(function(points){
    const a = make('path', {d: smoothPath(points, center, true), fill: 'none', stroke: '#231f20', 'stroke-width': 8, 'stroke-dasharray': '8.5 8.7'}, plot);
    
    
  });
  runways.forEach(function(r){
    const w = make('line', {x1: sx(r[0]), y1: sy(center, r[1]), x2: sx(r[2]), y2: sy(center, r[3]), stroke: '#231f20', 'stroke-width': 16.5}, plot);
    
    
  });
}

drawPanel('ber', 836, [
  {level: 0, points: berLevel54},
  {level: 1, points: berLevel57},
  {level: 2, points: berLevel60},
  {level: 1, points: berIsland57},
  {level: 3, points: berLevel63North},
  {level: 3, points: berLevel63South},
  {level: 3, points: berSpeckA63},
  {level: 3, points: berSpeckB63},
  {level: 4, points: berLevel66North},
  {level: 4, points: berLevel66Speck},
  {level: 4, points: berLevel66SpeckSmall},
  {level: 4, points: berLevel66South}
], [berAscent, berAscentIsland], berRunways, false);

drawPanel('dus', 1947, [
  {level: 0, points: dusLevel54},
  {level: 1, points: dusLevel57},
  {level: 2, points: dusLevel60},
  {level: 3, points: dusLevel63},
  {level: 4, points: dusLevel66}
], [dusAscent], dusRunways, false);

drawPanel('muc', 3058.5, [
  {level: 0, points: mucLevel54},
  {level: 1, points: mucLevel57},
  {level: 2, points: mucLevel60North},
  {level: 2, points: mucLevel60South},
  {level: 3, points: mucLevel63North},
  {level: 3, points: mucLevel63South},
  {level: 4, points: mucLevel66North},
  {level: 4, points: mucLevel66South}
], [mucAscentNorth, mucAscentSouth], mucRunways, true);
</script>
</body>
</html>
